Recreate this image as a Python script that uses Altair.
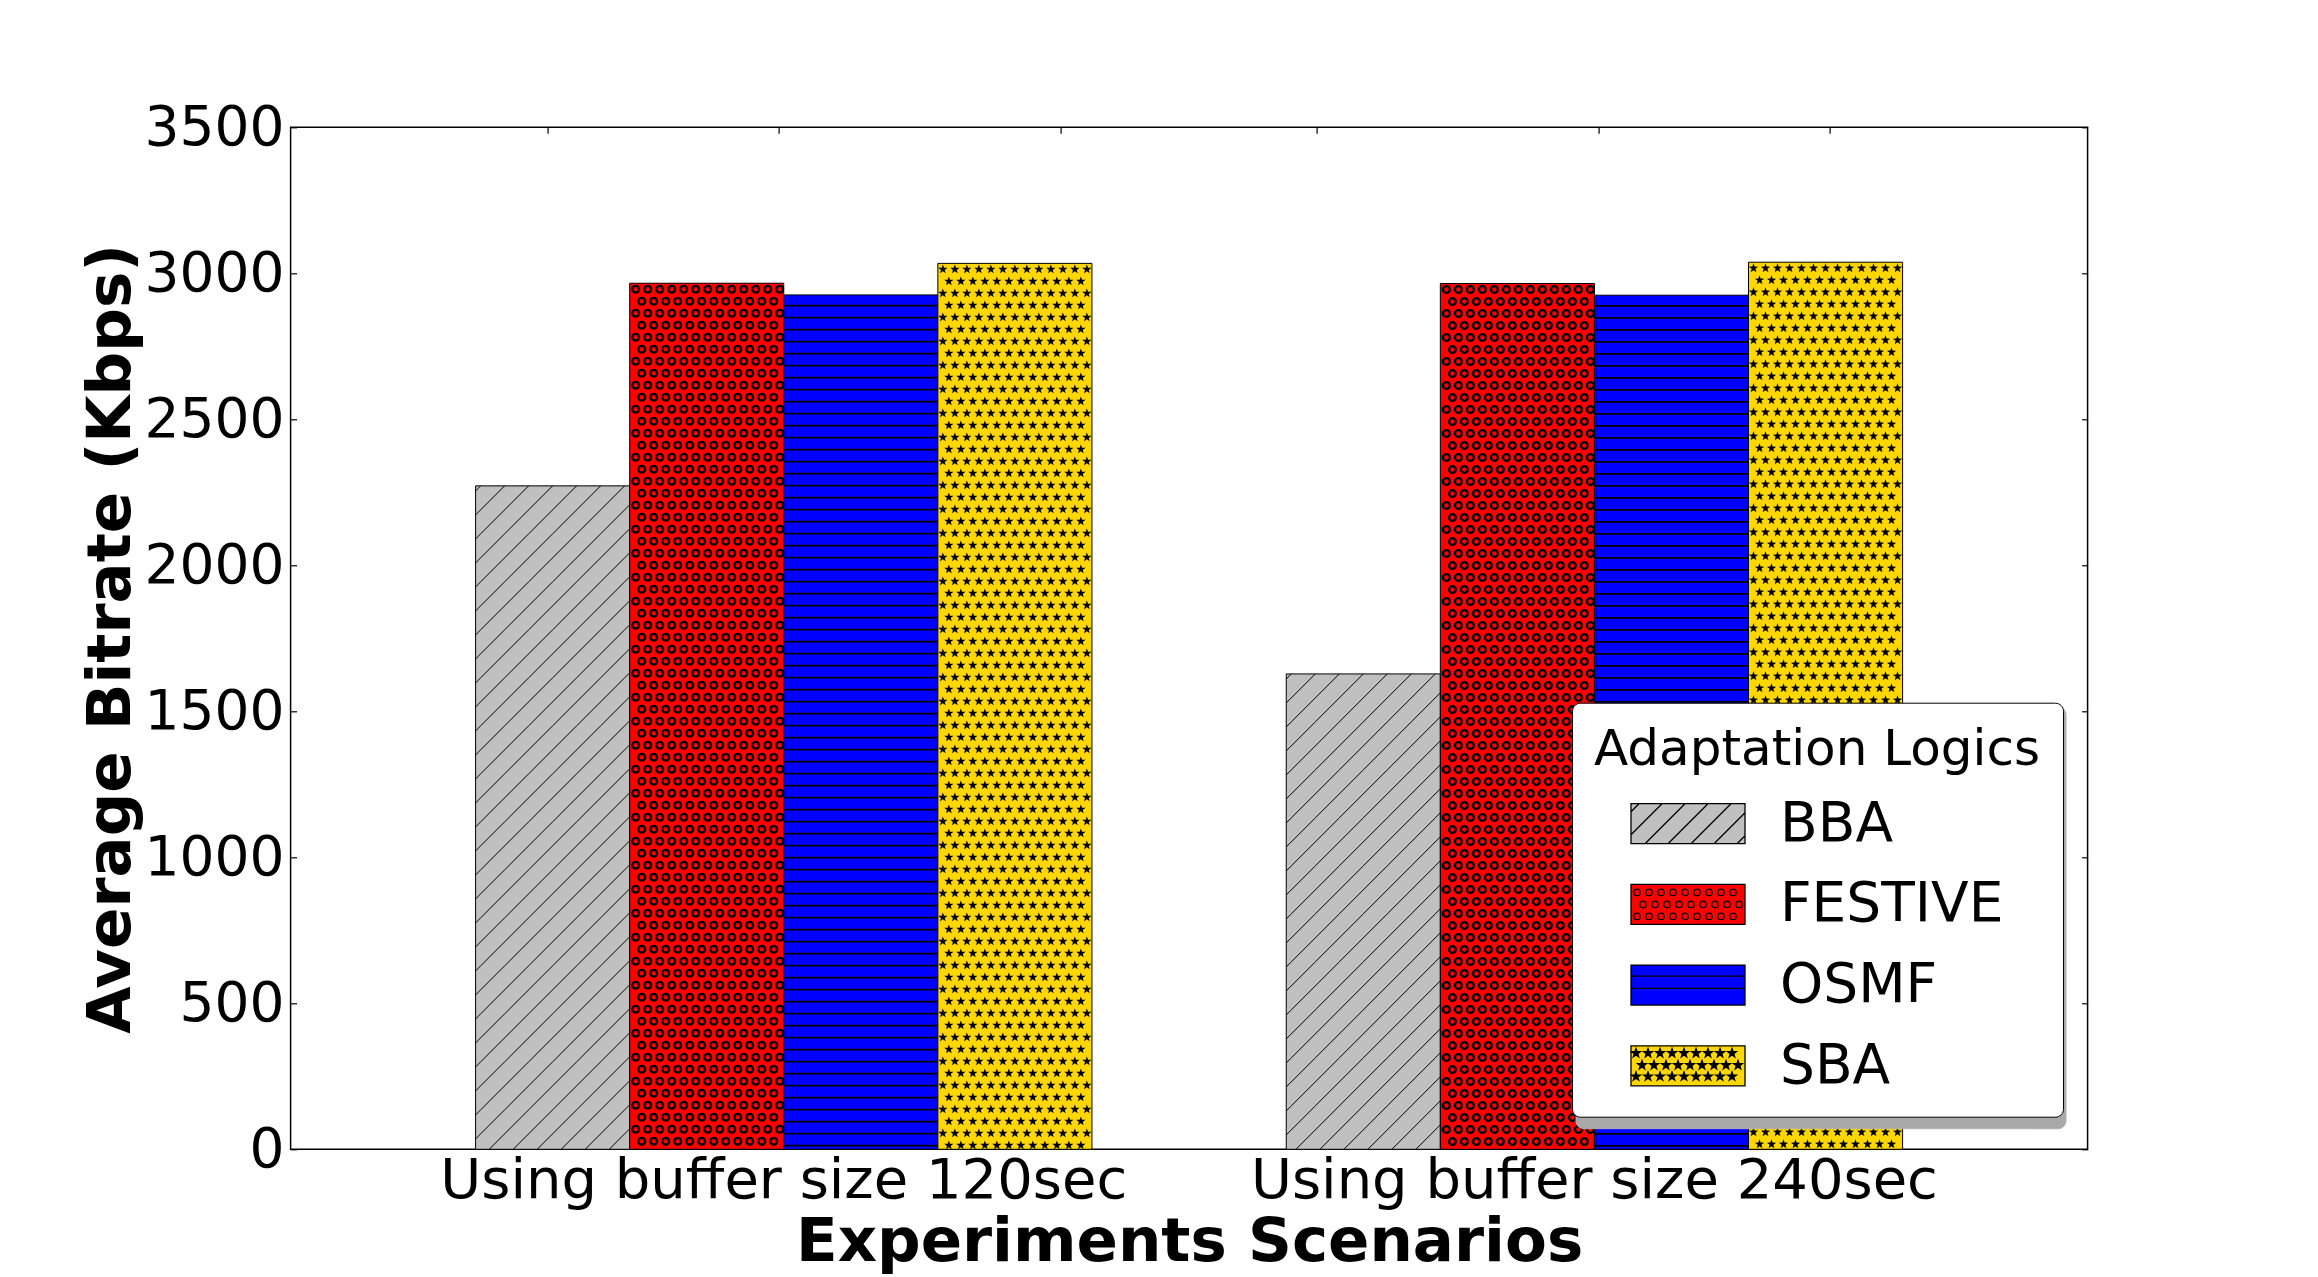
import math
import altair as alt
import pandas as pd

# ---------------- data ----------------
SCENARIOS = ["Using buffer size 120sec", "Using buffer size 240sec"]
ALGOS = ["BBA", "FESTIVE", "OSMF", "SBA"]
BBA = [2272, 1628]
FESTIVE = [2966, 2965]
OSMF = [2926, 2925]
SBA = [3034, 3038]
SERIES = {"BBA": BBA, "FESTIVE": FESTIVE, "OSMF": OSMF, "SBA": SBA}
COLORS = ["#c0c0c0", "#ff0000", "#0000ff", "#ffd700"]
Y_TICKS = [0, 500, 1000, 1500, 2000, 2500, 3000, 3500]
X_TICK_FRACS = [0.1428, 0.2713, 0.4283, 0.5710, 0.7280, 0.8566]

rows = []
for a in ALGOS:
    for s, v in zip(SCENARIOS, SERIES[a]):
        rows.append({"scenario": s, "algorithm": a, "value": v})
df = pd.DataFrame(rows)

# ---------------- geometry / style ----------------
PLOT_W = 1797
PLOT_H = 1022
Y_MAX = 3500
PI = 0.2397
PO = 0.2282
STEP = PLOT_W / (len(SCENARIOS) - PI + 2 * PO)
BAR_W = STEP * (1 - PI) / len(ALGOS)
U = BAR_W / 2.0
TILE_PX = 48.0
TILE = TILE_PX * Y_MAX / PLOT_H
FONT = "DejaVu Sans"


def f(v):
    return f"{v:.4f}"


def P(x, y, s):
    return f"{f(x / s)},{f(y / s)}"


def rect_path(a, b, s):
    return f"M{P(-a, -b, s)}L{P(a, -b, s)}L{P(a, b, s)}L{P(-a, b, s)}Z"


def diag_path(a, b, s, spacing, c0=0.0):
    parts = []
    k0 = math.floor((-a - b - c0) / spacing) - 1
    k1 = math.ceil((a + b - c0) / spacing) + 1
    for k in range(k0, k1 + 1):
        c = c0 + k * spacing
        x1 = max(-a, c - b)
        x2 = min(a, c + b)
        if x2 - x1 > 0.5:
            parts.append(f"M{P(x1, c - x1, s)}L{P(x2, c - x2, s)}")
    return "".join(parts)


def hline_path(a, s, ys):
    return "".join(f"M{P(-a, y, s)}L{P(a, y, s)}" for y in ys)


def circle(cx, cy, r, s):
    rr = f(r / s)
    return (f"M{P(cx - r, cy, s)}A{rr},{rr},0,1,1,{P(cx + r, cy, s)}"
            f"A{rr},{rr},0,1,1,{P(cx - r, cy, s)}Z")


def star(cx, cy, R, s, ratio=0.4):
    pts = []
    for i in range(10):
        ang = -math.pi / 2 + i * math.pi / 5
        rr = R if i % 2 == 0 else R * ratio
        pts.append((cx + rr * math.cos(ang), cy + rr * math.sin(ang)))
    return "M" + "L".join(P(x, y, s) for x, y in pts) + "Z"


def grid_path(a, s, rows_y, r, fn, x0=(6.0, 12.0), pitch=12.0):
    parts = []
    for j, cy in enumerate(rows_y):
        cx = -a + x0[j % 2]
        while cx + r <= a - 0.3:
            if cx - r >= -a + 0.3:
                parts.append(fn(cx, cy, s))
            cx += pitch
    return "".join(parts)


# tile shapes drawn inside the bars (tile = bar width x 48px)
A_T = BAR_W / 2.0
B_T = TILE_PX / 2.0
TILE_PATHS = [
    diag_path(A_T, B_T, U, 24.0),
    grid_path(A_T, U, [-18, -6, 6, 18], 3.4, lambda x, y, s: circle(x, y, 3.4, s)),
    hline_path(A_T, U, [-13.3, -1.3, 10.7, 22.7]),
    grid_path(A_T, U, [-18, -6, 6, 18], 4.7, lambda x, y, s: star(x, y, 4.9, s),
              x0=(5.0, 11.0)),
]
TILE_STYLE = [
    dict(filled=False, stroke="black", strokeWidth=1.0),
    dict(filled=False, stroke="black", strokeWidth=2.3),
    dict(filled=False, stroke="black", strokeWidth=1.9),
    dict(filled=True, color="black", strokeWidth=0),
]

# legend symbols (budget 60px -> unit 30px; drawn rect 114 x 40)
LS = 30.0
LA, LB = 57.0, 20.0


def nested_star(x, y, s):
    return star(x, y, 4.6, s) + star(x, y, 3.1, s) + star(x, y, 1.6, s)


LEG_PATHS = [
    rect_path(LA, LB, LS) + diag_path(LA, LB, LS, 23.0),
    rect_path(LA, LB, LS) + grid_path(LA, LS, [-12, 0, 12], 3.2,
                                      lambda x, y, s: circle(x, y, 3.2, s)),
    rect_path(LA, LB, LS) + hline_path(LA, LS, [-9.0, 3.3]),
    rect_path(LA, LB, LS) + grid_path(LA, LS, [-12.7, -0.7, 10.7], 4.5,
                                      nested_star, x0=(5.0, 11.0)),
]

# ---------------- encodings ----------------
Y_SCALE = alt.Scale(domain=[0, Y_MAX], nice=False, zero=True)
X_SCALE = alt.Scale(domain=SCENARIOS, paddingInner=PI, paddingOuter=PO)
XOFF = alt.XOffset("algorithm:N",
                   scale=alt.Scale(domain=ALGOS, paddingInner=0, paddingOuter=0))

X_AXIS = alt.Axis(title="Experiments Scenarios", titleFont=FONT, titleFontSize=61,
                  titleFontWeight="bold", titleColor="black", titlePadding=4,
                  labelFont=FONT, labelFontSize=56, labelColor="black",
                  labelAngle=0, labelPadding=4, labelLimit=1000,
                  ticks=False, domain=False, grid=False)
Y_AXIS = alt.Axis(title="Average Bitrate (Kbps)", titleFont=FONT, titleFontSize=61,
                  titleFontWeight="bold", titleColor="black", titlePadding=2,
                  values=Y_TICKS, format="d", labelFont=FONT, labelFontSize=55,
                  labelColor="black", labelPadding=6.6, ticks=False,
                  domain=False, grid=False)

layers = []
for i, algo in enumerate(ALGOS):
    first = i == 0
    bar = alt.Chart(df).transform_filter(alt.datum.algorithm == algo).mark_bar(
        fill=COLORS[i], stroke="black", strokeWidth=1
    ).encode(
        x=alt.X("scenario:N", scale=X_SCALE, axis=X_AXIS if first else None),
        xOffset=XOFF,
        y=alt.Y("value:Q", scale=Y_SCALE, axis=Y_AXIS if first else None),
    )
    pat = alt.Chart(df).transform_filter(alt.datum.algorithm == algo).transform_calculate(
        ks=f"sequence(0, ceil(datum.value / {TILE}))"
    ).transform_flatten(["ks"]).transform_calculate(
        yc=f"datum.value - (datum.ks + 0.5) * {TILE}"
    ).mark_point(
        shape=TILE_PATHS[i], size=BAR_W ** 2, clip=True, opacity=1, **TILE_STYLE[i]
    ).encode(
        x=alt.X("scenario:N", scale=X_SCALE, axis=None),
        xOffset=XOFF,
        y=alt.Y("yc:Q", scale=Y_SCALE, axis=None),
    )
    layers += [bar, pat]

LEG_X, LEG_Y = 1281.4, 575.4
LEG_COMMON = dict(
    orient="none", titleFont=FONT, titleFontSize=50, titleFontWeight="normal",
    titleLimit=1000, titlePadding=18,
    labelFont=FONT, labelFontSize=55, labelLimit=1000,
    symbolSize=3600, rowPadding=21.7, padding=22, cornerRadius=8,
)
LEG = alt.Legend(title="Adaptation Logics", legendX=LEG_X, legendY=LEG_Y,
                 titleColor="black", labelColor="black",
                 labelOffset=61, symbolOffset=63,
                 symbolStrokeColor="black", symbolStrokeWidth=1.3,
                 strokeColor="black", fillColor="white", zindex=2, **LEG_COMMON)
# soft drop shadow behind the legend box (same size, no visible content)
SHADOW = alt.Legend(title="\u00a0", legendX=LEG_X + 3.5, legendY=LEG_Y + 3.5,
                    titleColor="rgba(0,0,0,0)", labelColor="rgba(0,0,0,0)",
                    labelExpr="''", labelOffset=0, symbolOffset=384,
                    symbolOpacity=0, strokeColor="#b0b0b0", fillColor="#a8a8a8",
                    zindex=1, **LEG_COMMON)

legend_layer = alt.Chart(df).transform_filter("false").mark_point(
    filled=True, size=3600, stroke="black", strokeWidth=1.3, opacity=1
).encode(
    fill=alt.Fill("algorithm:N", scale=alt.Scale(domain=ALGOS, range=COLORS), legend=LEG),
    stroke=alt.Stroke("algorithm:N", scale=alt.Scale(domain=ALGOS, range=["black"] * 4),
                      legend=LEG),
    shape=alt.Shape("algorithm:N", scale=alt.Scale(domain=ALGOS, range=LEG_PATHS),
                    legend=LEG),
)
layers.append(legend_layer)


def tick_axis(orient, values):
    return alt.Axis(orient=orient, values=values, offset=-6, tickSize=6,
                    tickColor="black", tickWidth=1.2, labels=False, domain=False,
                    grid=False, title=None)


FRAC_SCALE = alt.Scale(domain=[0, 1], nice=False, zero=False)
t1 = alt.Chart(df).transform_filter("false").mark_point(opacity=0).encode(
    x=alt.X("value:Q", scale=FRAC_SCALE, axis=tick_axis("bottom", X_TICK_FRACS)),
    y=alt.Y("value:Q", scale=Y_SCALE, axis=tick_axis("right", Y_TICKS)),
    strokeDash=alt.StrokeDash("algorithm:N",
                              scale=alt.Scale(domain=ALGOS[::-1], range=[[1, 0]] * 4),
                              legend=SHADOW),
)
t2 = alt.Chart(df).transform_filter("false").mark_point(opacity=0).encode(
    x=alt.X("value:Q", scale=FRAC_SCALE, axis=tick_axis("top", X_TICK_FRACS)),
    y=alt.Y("value:Q", scale=Y_SCALE, axis=tick_axis("left", Y_TICKS)),
)
layers += [t1, t2]

chart = alt.layer(*layers).resolve_scale(
    x="independent"
).resolve_axis(
    x="independent", y="independent"
).properties(
    width=PLOT_W, height=PLOT_H,
    padding={"left": 282.6, "top": 119.3, "right": 200, "bottom": 130},
    autosize=alt.AutoSizeParams(type="none"),
).configure(
    font=FONT, background="white"
).configure_view(
    stroke="black", strokeWidth=1.5
)

chart.save("out.html", embed_options={"renderer": "svg", "actions": False})
